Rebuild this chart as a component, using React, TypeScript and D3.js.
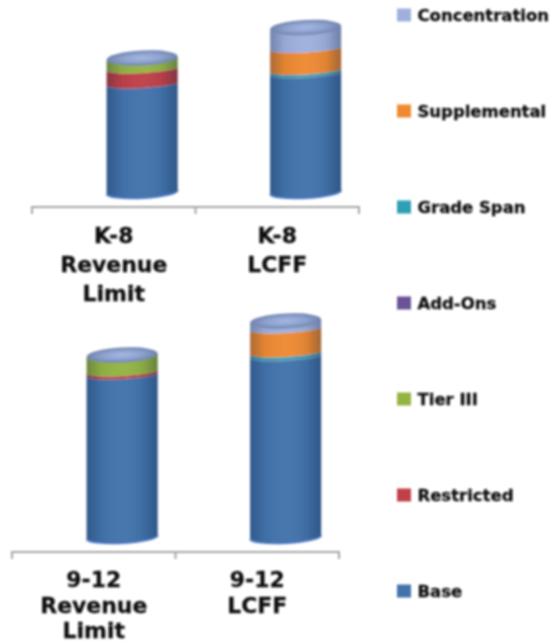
import * as d3 from "d3";

// no value axis is shown (1px = 50 units)
const columns = ["K-8 Revenue Limit", "K-8 LCFF", "9-12 Revenue Limit", "9-12 LCFF"];
const seriesNames = ["Base", "Restricted", "Tier III", "Add-Ons", "Grade Span", "Supplemental", "Concentration"];
const base = [5300, 5800, 8000, 8900];
const restricted = [750, 0, 150, 0];
const tierIII = [550, 0, 850, 0];
const addOns = [0, 25, 0, 25];
const gradeSpan = [0, 150, 0, 175];
const supplemental = [0, 1100, 0, 1200];
const concentration = [0, 1050, 0, 400];
const colors = ["#4273ab", "#bf4048", "#94b443", "#6a5296", "#2f9fb4", "#ef8a31", "#9fb0dc"];
const valuesBySeries = [base, restricted, tierIII, addOns, gradeSpan, supplemental, concentration];

const rows = columns.map((c, i) => {
  const row: Record<string, number | string> = { column: c };
  seriesNames.forEach((s, j) => (row[s] = valuesBySeries[j][i]));
  return row;
});
const stacked = d3.stack<any>().keys(seriesNames)(rows);

const panels = [
  { first: 0, x0: 32, x1: 359, axisY: 207, floorY: 190, labelY: [243, 272, 301], labels: [["K-8", "Revenue", "Limit"], ["K-8", "LCFF"]] },
  { first: 2, x0: 12, x1: 339, axisY: 552, floorY: 535, labelY: [587, 612.5, 638], labels: [["9-12", "Revenue", "Limit"], ["9-12", "LCFF"]] },
];

const font = "'DejaVu Sans', sans-serif";
const RX = 35.5;
const CAP_RY = 7.5;
const RING_RY = 4;
const FLOOR_RY = 6;
const TILT = 2; // right side of each ring sits higher than the left

const legendY = d3.scalePoint<string>().domain([...seriesNames].reverse()).range([15, 591]);

function ringFront(cx: number, y: number, ry: number, reverse: boolean) {
  if (reverse) return `A${RX} ${ry} -3 0 1 ${cx - RX} ${y + TILT}`;
  return `A${RX} ${ry} -3 0 0 ${cx + RX} ${y - TILT}`;
}

export default function App() {
  return (
    <svg width={554} height={644} style={{ position: "absolute", left: 0, top: 0, background: "#fff" }}>
      <defs>
        <filter id="soft" x="-5%" y="-5%" width="110%" height="110%">
          <feGaussianBlur stdDeviation="0.85" />
        </filter>
        <linearGradient id="shade" x1="0" x2="1" y1="0" y2="0">
          <stop offset="0" stopColor="#0b1f3d" stopOpacity={0.3} />
          <stop offset="0.2" stopColor="#0b1f3d" stopOpacity={0.06} />
          <stop offset="0.5" stopColor="#ffffff" stopOpacity={0.03} />
          <stop offset="0.8" stopColor="#0b1f3d" stopOpacity={0.08} />
          <stop offset="1" stopColor="#0b1f3d" stopOpacity={0.34} />
        </linearGradient>
        <radialGradient id="cap">
          <stop offset="0" stopColor="#a6b8e4" />
          <stop offset="0.55" stopColor="#8fa3d0" />
          <stop offset="1" stopColor="#6f83ad" />
        </radialGradient>
      </defs>
      <g filter="url(#soft)">
        {panels.map((p) => {
          const x = d3
            .scaleBand<number>()
            .domain([p.first, p.first + 1])
            .range([p.x0, p.x1])
            .paddingInner(0.56)
            .paddingOuter(0.28)
            .align(0.81);
          const y = d3.scaleLinear().domain([0, 10000]).range([p.floorY, p.floorY - 200]);
          const mid = (p.x0 + p.x1) / 2;
          const cellCenter = [(p.x0 + mid) / 2, (mid + p.x1) / 2];
          const floorRing = p.floorY + 2;
          return (
            <g key={p.first}>
              {[p.first, p.first + 1].map((col, ci) => {
                const cx = x(col)! + x.bandwidth() / 2;
                const total = d3.sum(valuesBySeries, (v) => v[col]);
                const topY = y(total);
                const segs = stacked.filter((s) => s[col][1] > s[col][0]);
                return (
                  <g key={col}>
                    {segs.map((s) => {
                      const isFloor = s[col][0] === 0;
                      const y0 = isFloor ? floorRing : y(s[col][0]);
                      const y1 = y(s[col][1]);
                      const d = `M${cx - RX} ${y0 + TILT}${ringFront(cx, y0, isFloor ? FLOOR_RY : RING_RY, false)}L${cx + RX} ${y1 - TILT}${ringFront(cx, y1, RING_RY, true)}Z`;
                      return <path key={s.key} d={d} fill={colors[seriesNames.indexOf(s.key)]} />;
                    })}
                    <path
                      d={`M${cx - RX} ${floorRing + TILT}${ringFront(cx, floorRing, FLOOR_RY, false)}L${cx + RX} ${topY - TILT}${ringFront(cx, topY, RING_RY, true)}Z`}
                      fill="url(#shade)"
                    />
                    <ellipse cx={cx} cy={topY} rx={RX} ry={CAP_RY} fill="url(#cap)" transform={`rotate(-3 ${cx} ${topY})`} />
                    <path
                      d={`M${cx - RX} ${floorRing + TILT}${ringFront(cx, floorRing, FLOOR_RY, false)}`}
                      fill="none"
                      stroke="#4a78c0"
                      strokeWidth={2}
                    />
                    {p.labels[ci].map((t, li) => (
                      <text
                        key={li}
                        transform={`translate(${cellCenter[ci]},${p.labelY[li]}) scale(1.07,1)`}
                        textAnchor="middle"
                        fontFamily={font}
                        fontWeight="bold"
                        fontSize={20.5}
                        fill="#111"
                        stroke="#111"
                        strokeWidth={0.3}
                      >
                        {t}
                      </text>
                    ))}
                  </g>
                );
              })}
              <path
                d={`M${p.x0} ${p.axisY + 7}V${p.axisY}H${p.x1}V${p.axisY + 7}M${mid} ${p.axisY}V${p.axisY + 7}`}
                fill="none"
                stroke="#a6a6a6"
                strokeWidth={2}
              />
            </g>
          );
        })}
        {seriesNames.map((s, i) => (
          <g key={s} transform={`translate(397,${legendY(s)})`}>
            <rect x={0} y={-6.5} width={14} height={13} fill={colors[i]} />
            <text
              transform="translate(20.5,5.5) scale(1.1,1)"
              fontFamily={font}
              fontWeight="bold"
              fontSize={15}
              fill="#111"
              stroke="#111"
              strokeWidth={0.3}
            >
              {s}
            </text>
          </g>
        ))}
      </g>
    </svg>
  );
}
